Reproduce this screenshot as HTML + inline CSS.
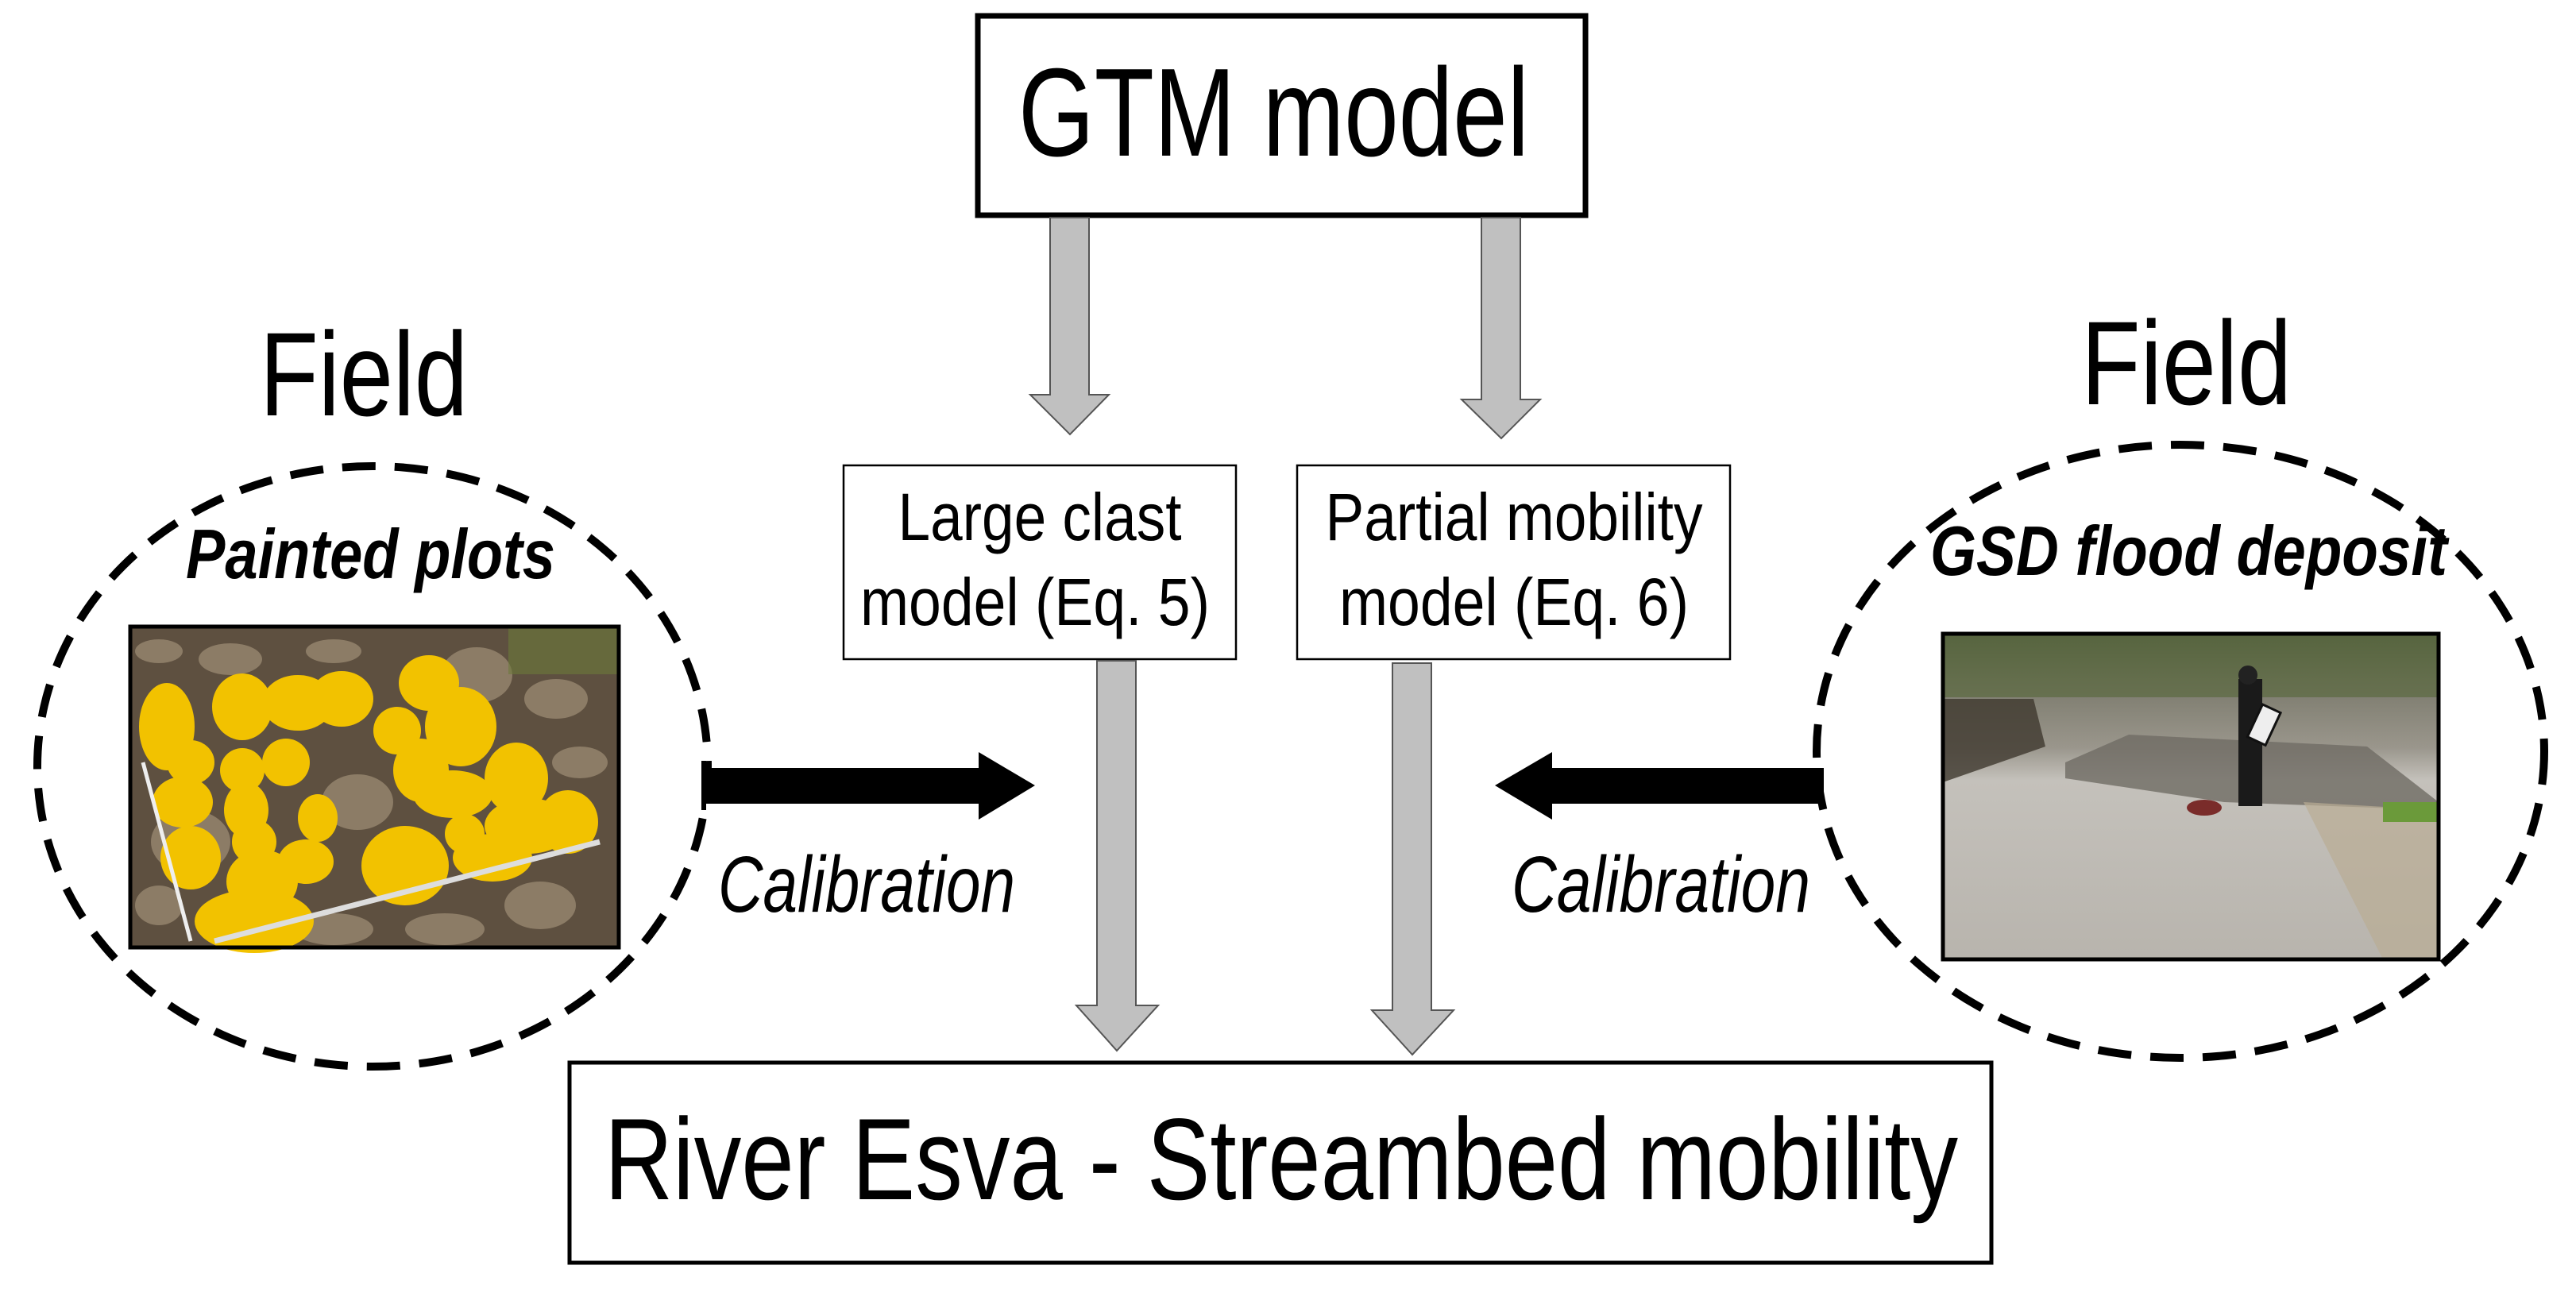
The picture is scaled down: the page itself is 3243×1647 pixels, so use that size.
<!DOCTYPE html>
<html><head><meta charset="utf-8"><style>
html,body{margin:0;padding:0;background:#fff;width:3243px;height:1647px;overflow:hidden}
svg{display:block}
text{font-family:"Liberation Sans",Arial,sans-serif;fill:#000}
</style></head><body>
<svg width="3243" height="1647" viewBox="0 0 3243 1647" xmlns="http://www.w3.org/2000/svg">
<rect width="3243" height="1647" fill="#fff"/>
<defs>
<linearGradient id="rg" x1="0" y1="0" x2="0" y2="1">
<stop offset="0" stop-color="#4d5a3c"/><stop offset="0.15" stop-color="#7b7a6c"/><stop offset="0.35" stop-color="#9a968c"/><stop offset="0.45" stop-color="#c4c1bb"/><stop offset="1" stop-color="#b8b4ad"/>
</linearGradient>
</defs>

<rect x="1231" y="20" width="765" height="251" fill="#fff" stroke="#000" stroke-width="7"/>
<text x="1282" y="196" font-size="158" textLength="643" lengthAdjust="spacingAndGlyphs">GTM model</text>

<polygon points="1322,274 1371,274 1371,497 1396,497 1347,547 1297,497 1322,497" fill="#c0c0c0" stroke="#555" stroke-width="2"/>
<polygon points="1865,274 1914,274 1914,503 1939,503 1890,552 1840,503 1865,503" fill="#c0c0c0" stroke="#555" stroke-width="2"/>

<rect x="1062" y="586" width="494" height="244" fill="#fff" stroke="#000" stroke-width="2.5"/>
<text x="1309" y="680" font-size="84" text-anchor="middle" textLength="357" lengthAdjust="spacingAndGlyphs">Large clast</text>
<text x="1303" y="787" font-size="84" text-anchor="middle" textLength="440" lengthAdjust="spacingAndGlyphs">model (Eq. 5)</text>
<rect x="1633" y="586" width="545" height="244" fill="#fff" stroke="#000" stroke-width="2.5"/>
<text x="1906" y="680" font-size="84" text-anchor="middle" textLength="475" lengthAdjust="spacingAndGlyphs">Partial mobility</text>
<text x="1906" y="787" font-size="84" text-anchor="middle" textLength="440" lengthAdjust="spacingAndGlyphs">model (Eq. 6)</text>

<polygon points="1381,832 1430,832 1430,1266 1458,1266 1406,1323 1355,1266 1381,1266" fill="#c0c0c0" stroke="#555" stroke-width="2"/>
<polygon points="1753,835 1802,835 1802,1272 1830,1272 1778,1328 1727,1272 1753,1272" fill="#c0c0c0" stroke="#555" stroke-width="2"/>

<rect x="717" y="1338" width="1790" height="252" fill="#fff" stroke="#000" stroke-width="5"/>
<text x="761" y="1510" font-size="146" textLength="1704" lengthAdjust="spacingAndGlyphs">River Esva - Streambed mobility</text>

<text x="327" y="523" font-size="150" textLength="262" lengthAdjust="spacingAndGlyphs">Field</text>
<text x="2620" y="509" font-size="150" textLength="265" lengthAdjust="spacingAndGlyphs">Field</text>

<ellipse cx="469" cy="965" rx="422" ry="378" fill="none" stroke="#000" stroke-width="10" stroke-dasharray="42,24"/>
<ellipse cx="2745" cy="946" rx="458" ry="386" fill="none" stroke="#000" stroke-width="10" stroke-dasharray="42,24"/>

<text x="234" y="728" font-size="88" font-weight="bold" font-style="italic" textLength="465" lengthAdjust="spacingAndGlyphs">Painted plots</text>
<text x="2430" y="724" font-size="88" font-weight="bold" font-style="italic" textLength="651" lengthAdjust="spacingAndGlyphs">GSD flood deposit</text>

<!-- left photo -->
<g>
<rect x="164" y="789" width="615" height="404" fill="#5e5040"/>
<g fill="#8c7c66">
<ellipse cx="200" cy="820" rx="30" ry="15"/><ellipse cx="290" cy="830" rx="40" ry="20"/><ellipse cx="420" cy="820" rx="35" ry="15"/>
<ellipse cx="600" cy="850" rx="45" ry="35"/><ellipse cx="700" cy="880" rx="40" ry="25"/><ellipse cx="730" cy="960" rx="35" ry="20"/>
<ellipse cx="450" cy="1010" rx="45" ry="35"/><ellipse cx="420" cy="1170" rx="50" ry="20"/><ellipse cx="560" cy="1170" rx="50" ry="20"/>
<ellipse cx="680" cy="1140" rx="45" ry="30"/><ellipse cx="200" cy="1140" rx="30" ry="25"/><ellipse cx="240" cy="1060" rx="50" ry="40"/>
</g>
<rect x="640" y="789" width="139" height="60" fill="#6d7a3a" opacity="0.6"/>
<g fill="#f2c200">
<ellipse cx="210" cy="915" rx="35" ry="55"/>
<ellipse cx="305" cy="890" rx="38" ry="42"/>
<ellipse cx="375" cy="885" rx="45" ry="35"/>
<ellipse cx="430" cy="880" rx="40" ry="35"/>
<ellipse cx="540" cy="860" rx="38" ry="35"/>
<ellipse cx="580" cy="915" rx="45" ry="50"/>
<ellipse cx="500" cy="920" rx="30" ry="30"/>
<ellipse cx="240" cy="960" rx="30" ry="28"/>
<ellipse cx="230" cy="1010" rx="38" ry="32"/>
<ellipse cx="305" cy="970" rx="28" ry="28"/>
<ellipse cx="360" cy="960" rx="30" ry="30"/>
<ellipse cx="310" cy="1020" rx="28" ry="35"/>
<ellipse cx="400" cy="1030" rx="25" ry="30"/>
<ellipse cx="530" cy="970" rx="35" ry="40"/>
<ellipse cx="570" cy="1000" rx="50" ry="30"/>
<ellipse cx="650" cy="980" rx="40" ry="45"/>
<ellipse cx="665" cy="1040" rx="55" ry="35"/>
<ellipse cx="715" cy="1035" rx="38" ry="40"/>
<ellipse cx="240" cy="1080" rx="38" ry="40"/>
<ellipse cx="320" cy="1060" rx="28" ry="28"/>
<ellipse cx="330" cy="1110" rx="45" ry="40"/>
<ellipse cx="385" cy="1085" rx="35" ry="28"/>
<ellipse cx="320" cy="1160" rx="75" ry="40"/>
<ellipse cx="510" cy="1090" rx="55" ry="50"/>
<ellipse cx="620" cy="1080" rx="50" ry="30"/>
<ellipse cx="585" cy="1050" rx="25" ry="25"/>
</g>
<line x1="180" y1="960" x2="240" y2="1185" stroke="#eee" stroke-width="5"/>
<line x1="270" y1="1185" x2="755" y2="1060" stroke="#ddd" stroke-width="7"/>
<rect x="164" y="789" width="615" height="404" fill="none" stroke="#000" stroke-width="5"/>
</g>

<!-- right photo -->
<g>
<rect x="2446" y="798" width="624" height="410" fill="url(#rg)"/>
<rect x="2446" y="798" width="624" height="80" fill="#5b6a40" opacity="0.7"/>
<polygon points="2446,880 2560,880 2575,940 2446,985" fill="#3e382e" opacity="0.8"/>
<polygon points="2600,960 2680,925 2980,940 3070,1010 3070,1020 2800,1010 2600,980" fill="#6f6b64" opacity="0.8"/>
<polygon points="2900,1010 3070,1020 3070,1208 3000,1208" fill="#b9ad94" opacity="0.7"/>
<rect x="3000" y="1010" width="70" height="25" fill="#6b9a3a"/>
<rect x="2818" y="855" width="30" height="160" fill="#1a1a1a"/>
<circle cx="2830" cy="850" r="12" fill="#222"/>
<rect x="2838" y="890" width="25" height="45" fill="#eee" stroke="#111" stroke-width="3" transform="rotate(25 2850 912)"/>
<ellipse cx="2775" cy="1017" rx="22" ry="10" fill="#7a2c2a"/>
<rect x="2446" y="798" width="624" height="410" fill="none" stroke="#000" stroke-width="5"/>
</g>

<rect x="883" y="958" width="6" height="62" fill="#000"/>
<polygon points="885,967 1232,967 1232,947 1303,989 1232,1032 1232,1012 885,1012" fill="#000"/>
<polygon points="2296,967 1954,967 1954,947 1882,989 1954,1032 1954,1012 2296,1012" fill="#000"/>

<text x="904" y="1148" font-size="100" font-style="italic" textLength="374" lengthAdjust="spacingAndGlyphs">Calibration</text>
<text x="1903" y="1148" font-size="100" font-style="italic" textLength="376" lengthAdjust="spacingAndGlyphs">Calibration</text>
</svg>
</body></html>
